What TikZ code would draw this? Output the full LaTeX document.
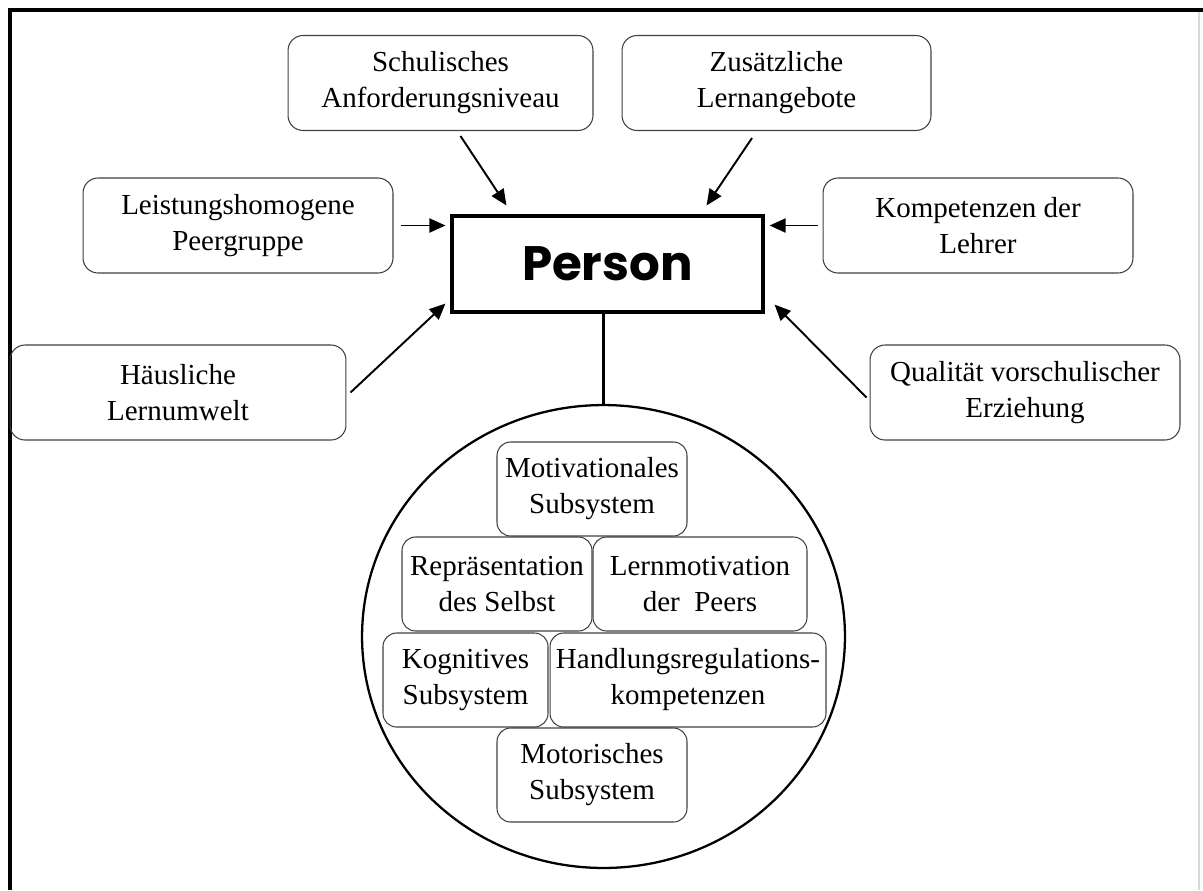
\documentclass[tikz,border=0pt]{standalone}
\usepackage{fontspec}
\setmainfont{Liberation Serif}
\newfontfamily\personfont{Poppins}
\usetikzlibrary{arrows.meta,shapes.geometric}

\begin{document}
\begin{tikzpicture}[
  x=0.02cm, y=-0.02cm,
  every node/.style={font=\fontsize{16.5}{20.5}\selectfont, align=center},
  factor/.style={draw=black!75, line width=0.6pt, rounded corners=0.3cm, minimum height=1.9cm, inner sep=2pt},
  subbox/.style={draw=black!75, line width=0.6pt, rounded corners=0.27cm, minimum height=1.88cm, inner sep=1pt},
  infl/.style={-{Triangle[length=0.32cm,width=0.28cm]}, line width=1.1pt}
]
\useasboundingbox (0,0) rectangle (1203,890);
% Rahmen
\draw[line width=2.3pt] (10,890) -- (10,10) -- (1203,10);
\draw[black!15, line width=1.2pt] (1199,12) -- (1199,890);

\node[draw, line width=1.8pt, minimum width=6.22cm, minimum height=1.92cm,
      font=\personfont\bfseries\fontsize{27.5}{32}\selectfont] (person) at (607.5,264) {Person};

% Einflussfaktoren
\foreach \name/\x/\y/\w/\txt in {
  schul/440.5/83/6.1/{Schulisches\\Anforderungsniveau},
  zus/776.5/83/6.18/{Zusätzliche\\Lernangebote},
  leist/238/225.5/6.2/{Leistungshomogene\\Peergruppe},
  komp/978/225.5/6.2/{Kompetenzen der\\Lehrer},
  haus/178/392.5/6.72/{Häusliche\\Lernumwelt},
  qual/1025/392.5/6.2/{Qualität vorschulischer\\Erziehung}}{
  \node[factor, minimum width=\w cm] (\name) at (\x,\y) {\txt};
}

\node[draw, ellipse, line width=1.3pt, minimum width=9.66cm, minimum height=9.26cm] (sys) at (603.5,636.5) {};

% Subsysteme
\foreach \name/\x/\y/\w/\txt in {
  mot/592/489/3.8/{Motivationales\\Subsystem},
  rep/497/584/3.8/{Repräsentation\\des Selbst},
  lern/700/584/4.28/{Lernmotivation\\der~ Peers},
  kog/465.5/680/3.3/{Kognitives\\Subsystem},
  hand/688/680/5.52/{Handlungsregulations-\\kompetenzen},
  moto/592/775/3.8/{Motorisches\\Subsystem}}{
  \node[subbox, minimum width=\w cm] (\name) at (\x,\y) {\txt};
}

\draw[line width=1.3pt] (sys.north) -- (sys.north |- person.south);

\draw[infl] ([xshift=0.4cm,yshift=-0.1cm]schul.south) -- ([xshift=1.12cm,yshift=0.18cm]person.north west);
\draw[infl] ([xshift=-0.49cm,yshift=-0.14cm]zus.south) -- ([xshift=-1.16cm,yshift=0.18cm]person.north east);
\draw[infl, shorten <=0.14cm, shorten >=0.1cm] (leist.east) -- (leist.east -| person.west);
\draw[infl, shorten <=0.1cm, shorten >=0.1cm] (komp.west) -- (komp.west -| person.east);
\draw[infl] ([xshift=0.08cm]haus.east) -- ([xshift=-0.1cm,yshift=0.2cm]person.south west);
\draw[infl] ([xshift=-0.06cm,yshift=-0.1cm]qual.west) -- ([xshift=0.2cm,yshift=0.18cm]person.south east);
\end{tikzpicture}
\end{document}
